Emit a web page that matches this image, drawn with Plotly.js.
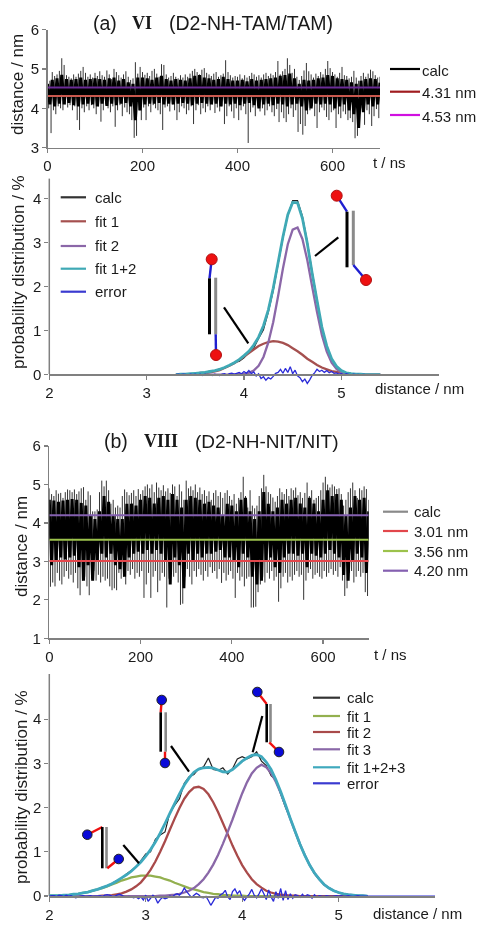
<!DOCTYPE html>
<html><head><meta charset="utf-8">
<script src="https://cdn.plot.ly/plotly-3.0.1.min.js"></script>
<style>html,body{margin:0;padding:0;background:#fff}#c{width:485px;height:927px;filter:blur(0.45px)}</style>
</head><body><div id="c"></div>
<script>
// ---------- panel (a) trajectory: upper / lower excursions every 5 ns ----------
const trajStep = 5;
const aHi = [4.78,4.70,4.92,4.82,4.86,4.95,5.27,5.10,4.84,4.80,4.76,4.86,4.80,4.88,4.95,5.05,4.90,4.80,4.86,4.78,
4.90,4.82,4.94,4.84,4.80,4.96,4.86,4.74,5.00,4.92,4.84,4.78,4.86,4.94,4.80,4.72,4.76,5.17,4.88,5.05,
4.92,4.85,4.90,4.82,4.95,5.00,4.88,4.80,5.12,5.10,4.86,4.78,4.82,4.90,4.80,4.76,4.84,4.78,4.86,4.80,
4.88,4.95,5.00,4.92,4.86,4.98,5.02,4.90,4.86,4.82,4.88,4.92,4.80,4.84,4.88,5.22,4.92,4.84,4.78,4.82,
4.80,4.86,4.76,4.84,4.78,4.82,4.90,4.86,4.80,4.84,4.78,4.86,4.90,4.82,4.88,4.84,4.92,5.20,4.86,4.94,
5.00,5.27,5.10,4.90,5.00,4.80,4.72,4.82,4.96,5.15,4.94,4.86,4.78,4.88,4.82,4.92,4.86,5.00,5.20,5.02,
4.92,4.86,4.80,4.90,5.05,4.84,4.82,4.76,4.80,4.95,4.78,4.70,4.82,4.90,4.80,4.88,4.98,4.94,4.84,4.78,4.80];
const aLo = [4.00,3.37,3.95,3.85,4.05,4.00,3.95,4.10,4.02,4.08,3.95,4.05,3.70,3.45,4.00,3.90,4.05,3.95,4.08,4.00,
3.85,4.05,3.66,3.95,4.10,4.00,3.90,4.05,3.53,3.95,4.08,3.80,4.02,3.90,3.85,3.70,3.25,3.30,3.95,3.70,
4.02,3.70,4.05,3.90,4.08,4.00,3.95,3.85,3.45,4.02,4.05,3.92,4.10,3.95,3.70,3.90,4.05,4.00,3.85,3.95,
4.05,3.60,3.95,4.08,3.85,4.00,3.90,4.05,3.95,4.10,3.88,4.02,3.92,4.05,3.60,3.80,4.05,3.92,3.75,4.00,
3.70,3.95,4.05,3.85,3.12,3.90,4.02,3.80,4.05,3.92,4.00,3.82,3.95,4.05,3.90,3.80,3.98,3.65,3.90,3.75,
3.65,3.85,4.00,3.78,3.95,3.40,3.60,3.33,3.55,3.85,3.95,4.05,3.80,3.50,3.90,4.02,3.95,3.78,3.70,3.90,
3.95,3.50,3.85,3.75,3.92,3.85,3.70,3.75,3.65,3.24,3.30,3.85,4.00,3.58,3.95,3.85,3.55,3.80,3.98,3.75,4.00];
// dense black core of the trajectory, every 10 ns
const coreStep = 10;
const aCoreHi = [4.62,4.72,4.76,4.85,4.74,4.72,4.74,4.78,4.72,4.74,
4.76,4.74,4.72,4.76,4.78,4.70,4.74,4.66,4.62,4.78,
4.78,4.76,4.72,4.78,4.82,4.74,4.70,4.74,4.72,4.70,
4.76,4.82,4.84,4.78,4.76,4.72,4.74,4.80,4.74,4.70,
4.70,4.72,4.68,4.74,4.70,4.72,4.74,4.76,4.78,4.82,
4.84,4.88,4.76,4.62,4.72,4.70,4.72,4.76,4.78,4.84,
4.82,4.76,4.74,4.72,4.66,4.62,4.70,4.74,4.76,4.74,4.65];
const aCoreLo = [4.10,4.05,4.12,4.10,4.14,4.08,4.05,4.10,4.12,4.10,
4.05,4.12,4.06,4.12,4.08,4.12,4.14,4.05,3.70,3.95,
4.10,4.12,4.12,4.14,4.10,4.12,4.10,4.12,4.14,4.12,
4.08,4.12,4.14,4.12,4.10,4.12,4.05,4.12,4.10,4.12,
4.08,4.12,4.14,4.08,4.00,4.10,4.12,4.08,4.12,4.10,
4.05,4.10,4.12,4.05,3.95,4.00,4.12,4.10,4.12,4.10,
4.00,4.05,4.10,3.95,3.85,3.50,3.90,4.10,4.05,4.10,4.10];
const aLevels = [4.31, 4.53];

// ---------- panel (b) trajectory ----------
const bHi = [4.90,4.75,4.70,4.85,4.76,4.78,4.65,4.80,4.87,4.85,4.80,4.87,4.75,4.82,4.90,4.93,4.60,4.82,4.72,4.30,
4.30,4.35,4.80,5.10,4.95,5.10,4.85,4.50,4.60,4.40,4.45,4.40,4.70,4.87,4.80,4.72,4.78,4.85,4.70,4.88,
4.75,4.85,4.95,5.00,4.90,5.00,4.80,5.05,4.92,4.85,4.98,4.82,4.90,4.78,5.00,4.95,4.70,5.00,4.82,4.60,
5.10,4.90,4.95,4.85,5.00,4.80,4.92,4.75,4.85,4.70,4.82,4.60,4.78,4.85,4.70,4.80,4.65,4.78,4.85,4.70,
4.60,4.75,4.50,4.65,4.80,5.20,4.70,4.40,4.85,4.45,4.38,4.45,4.70,4.90,5.25,4.95,4.80,4.75,4.66,4.55,
4.70,4.90,4.80,4.75,4.88,4.70,4.90,4.85,4.92,4.72,4.80,4.65,4.78,5.05,4.70,4.85,4.60,4.65,4.70,4.85,
5.05,5.20,5.00,4.92,5.00,4.95,4.88,4.90,4.75,4.45,4.60,4.80,4.90,5.05,4.85,4.65,4.90,4.85,4.95,4.88,4.60];
const bLo = [2.34,2.45,2.35,2.70,2.50,2.40,2.60,2.75,2.55,2.65,2.45,2.70,2.30,2.12,2.50,2.60,2.35,2.12,2.55,2.75,
2.50,2.65,2.45,2.60,2.50,2.55,2.35,2.25,2.30,2.25,2.70,2.55,2.60,2.40,2.75,2.65,2.80,2.55,2.70,2.60,
2.75,2.05,2.40,2.70,2.05,2.60,2.75,2.20,2.50,2.70,2.60,1.80,2.55,2.75,2.60,2.70,2.45,1.87,1.90,2.60,
2.80,2.60,2.40,2.75,2.60,2.80,2.65,2.50,2.75,2.60,2.85,2.70,2.75,2.55,2.80,2.44,2.70,2.50,2.65,2.75,
2.55,2.05,2.70,2.50,2.60,2.35,2.55,2.60,1.80,1.80,1.82,2.20,2.40,2.60,2.45,2.70,2.55,2.75,2.50,2.60,
1.95,2.30,2.60,2.70,2.45,2.60,2.50,2.65,2.75,2.60,2.65,2.00,2.50,2.70,2.80,2.55,2.65,2.70,2.60,2.55,
2.75,2.60,2.70,2.80,2.65,2.75,2.60,2.85,2.50,2.10,2.30,2.70,2.75,2.45,2.60,2.75,2.60,2.70,2.20,2.10,2.60];
const bCoreHi = [4.60,4.58,4.55,4.58,4.60,4.62,4.60,4.52,4.45,4.20,
4.10,4.30,4.70,4.55,4.20,4.10,4.10,4.50,4.50,4.45,
4.60,4.70,4.65,4.50,4.65,4.70,4.60,4.75,4.60,4.40,
4.60,4.70,4.65,4.60,4.50,4.55,4.45,4.40,4.20,4.50,
4.45,4.30,4.60,4.65,4.30,4.10,4.30,4.80,4.50,4.30,
4.40,4.60,4.50,4.60,4.65,4.50,4.40,4.65,4.50,4.30,
4.60,4.85,4.70,4.75,4.60,4.20,4.40,4.70,4.60,4.65,4.30];
const bCoreLo = [2.90,3.00,3.10,3.05,3.10,3.15,2.85,2.50,2.90,2.50,
3.00,3.20,3.10,3.20,2.90,2.80,2.60,3.10,3.20,3.25,
3.20,3.30,3.20,3.30,3.20,3.00,2.40,3.10,2.90,2.30,
3.20,3.00,3.20,3.10,3.20,3.20,3.25,3.30,3.10,3.10,
3.00,2.85,3.20,3.10,2.60,2.40,2.50,3.00,3.10,2.85,
2.70,3.10,3.20,3.20,3.15,3.20,2.85,3.20,3.15,3.10,
3.20,3.30,3.20,3.10,2.65,2.50,3.00,3.20,3.10,2.70,2.60];
const bLevels = [3.01, 3.56, 4.20];

// ---------- panel (a) distribution, 0.05 nm grid from 3.30 nm ----------
const aStart = 3.30;
const aCalc = [0,.01,.02,.02,.03,.05,.05,.08,.09,.13,.15,.20,.28,.30,.38,.50,.60,.82,1.02,1.42,1.90,2.50,3.10,3.62,3.95,3.95,3.60,3.02,2.34,1.70,1.06,.62,.34,.17,.07,.04,.02,.01,.01,0,0,0,0];
const aFit1 = [0,0,0,.01,.01,.02,.03,.05,.07,.10,.15,.20,.26,.33,.41,.49,.57,.65,.70,.74,.76,.75,.72,.67,.60,.53,.45,.36,.29,.22,.16,.12,.08,.06,.04,.02,.01,.01,.01,0,0,0,0];
const aFit2 = [0,0,0,0,0,0,0,0,0,0,0,0,0,.01,.01,.04,.09,.20,.40,.73,1.19,1.78,2.41,2.96,3.29,3.34,3.08,2.60,2.00,1.42,.90,.52,.27,.13,.05,.02,.01,0,0,0,0,0,0];
const aFit12 = [0,.01,.01,.02,.03,.04,.05,.07,.09,.12,.16,.21,.27,.34,.43,.53,.67,.85,1.11,1.47,1.96,2.54,3.13,3.63,3.91,3.90,3.55,2.98,2.30,1.68,1.08,.65,.36,.19,.09,.04,.02,.01,.01,0,0,0,0];
// error, 0.025 nm grid from 3.30 nm
const errStep = 0.025;
const aErr = [0,.01,0,.01,.005,-.01,.01,0,.01,
-.01,.01,-.02,.01,-.01,0,-.02,.01,-.01,-.02,
.01,.02,-.01,.02,.03,.01,.03,.05,.02,.07,
.03,.09,.02,.06,-.03,.02,-.09,-.05,-.13,-.07,
-.10,-.04,.03,.05,.12,.03,.14,.05,.18,.02,
.10,-.03,-.07,-.16,-.10,-.20,-.12,-.02,.04,.12,
.07,.10,.05,.09,.04,.07,.03,.04,.01,.02,
-.01,.02,.005,-.01,.01,0,.005,-.005,.005,0,0,0];

// ---------- panel (b) distribution, 0.05 nm grid from 2.00 nm ----------
const bStart = 2.00;
const bCalc = [.01,.01,.01,.02,.03,.03,.05,.07,.09,.11,.15,.20,.23,.29,.35,.40,.50,.58,.66,.80,
.95,1.00,1.28,1.38,1.45,1.88,2.05,2.20,2.55,2.70,2.75,2.88,2.92,3.12,2.86,2.84,2.90,2.76,2.88,3.10,
3.15,3.10,3.15,3.26,3.05,2.95,2.72,2.62,2.30,2.00,1.75,1.44,1.15,.94,.70,.50,.37,.27,.18,.13,.08,.05,.03,.02,.01,.01,0];
const bFit1 = [.01,.01,.01,.02,.02,.04,.05,.07,.09,.12,.15,.18,.22,.26,.30,.35,.38,.42,.44,.46,
.46,.46,.44,.42,.38,.35,.30,.26,.22,.18,.15,.12,.09,.07,.05,.04,.02,.02,.01,.01,
.01,0,0,0,0,0,0,0,0,0,0,0,0,0,0,0,0,0,0,0,0,0,0,0,0,0,0];
const bFit2 = [0,0,0,0,0,0,0,0,0,0,0,.01,.01,.02,.04,.06,.10,.15,.22,.31,
.44,.59,.78,1.00,1.24,1.50,1.75,1.99,2.20,2.35,2.45,2.47,2.42,2.30,2.12,1.90,1.65,1.40,1.14,.91,
.70,.53,.38,.27,.19,.12,.08,.05,.03,.02,.01,.01,0,0,0,0,0,0,0,0,0,0,0,0,0,0,0];
const bFit3 = [0,0,0,0,0,0,0,0,0,0,0,0,0,0,0,0,0,0,0,0,
0,0,0,.01,.01,.02,.03,.05,.08,.12,.18,.27,.38,.53,.71,.93,1.18,1.45,1.73,2.03,
2.32,2.57,2.77,2.90,2.97,2.91,2.78,2.58,2.33,2.04,1.74,1.45,1.17,.92,.70,.52,.38,.26,.18,.12,.08,.05,.03,.02,.01,.01,0];
const bFit123 = [.01,.01,.01,.02,.02,.04,.05,.07,.09,.12,.15,.19,.23,.28,.34,.41,.48,.56,.66,.77,
.90,1.05,1.22,1.42,1.64,1.87,2.09,2.31,2.51,2.67,2.80,2.87,2.90,2.91,2.89,2.85,2.81,2.80,2.86,2.95,
3.05,3.12,3.18,3.20,3.15,3.03,2.86,2.63,2.36,2.06,1.75,1.46,1.17,.92,.70,.52,.38,.26,.18,.12,.08,.05,.03,.02,.01,.01,0];
const bErr = [0,.01,.01,-.01,.02,.01,-.01,.02,0,.01,
-.02,-.04,-.02,0,.01,-.01,0,.01,-.01,0,
0,.01,-.01,.02,.03,.02,0,-.01,.02,.04,
.02,-.01,-.03,-.01,-.02,-.04,-.02,-.06,-.02,-.09,
.02,-.12,-.05,.02,-.04,-.16,-.08,-.03,-.06,-.04,
0,-.02,.03,.05,.02,.08,.18,.10,.03,-.03,
.02,.06,.03,-.03,-.04,-.01,-.10,-.21,-.12,-.03,
-.05,.03,.06,.13,-.02,-.08,.10,.16,.05,.12,
-.03,-.10,-.02,.05,.15,.02,-.04,.05,.16,.05,
-.08,.14,-.02,-.12,.10,-.05,.17,-.10,.12,-.08,
.05,-.05,.03,.01,-.03,.04,-.02,.03,.01,-.05,
.03,-.02,.01,0,-.01,.01,0,-.01,0,.01,
0,.01,-.01,0,.01,0,-.01,0,.01,0,0,0,0];

// ---------- labels ----------
const timeTicks = [0,200,400,600];
const distTicks = [2,3,4,5];
const aTopTicks = [3,4,5,6];
const bTopTicks = [1,2,3,4,5,6];
const aProbTicks = [0,1,2,3,4];
const bProbTicks = [0,1,2,3,4];
const aTopLegend = ["calc","4.31 nm","4.53 nm"];
const aBotLegend = ["calc","fit 1","fit 2","fit 1+2","error"];
const bTopLegend = ["calc","3.01 nm","3.56 nm","4.20 nm"];
const bBotLegend = ["calc","fit 1","fit 2","fit 3","fit 1+2+3","error"];

// ---------- helpers ----------
const W = 485, H = 927;
const fx = p => p / W, fy = p => 1 - p / H;
const grid = (s, d, n) => Array.from({length:n}, (_, i) => +(s + i * d).toFixed(3));
function zigzag(hi, lo, step) {           // alternate upper and lower values along the time grid
  const xs = [], ys = [];
  hi.forEach((v, i) => { xs.push(i * step, i * step + step / 2); ys.push(v, lo[i]); });
  return {x: xs.slice(0, -1), y: ys.slice(0, -1)};
}
function sticks(hi, lo, mid, step) {      // thin vertical excursions out of the core
  const xs = [], ys = [];
  hi.forEach((v, i) => {
    xs.push(i * step, i * step, null);                 ys.push(mid, v, null);
    if (i < hi.length - 1) { xs.push(i * step + step / 2, i * step + step / 2, null); ys.push(mid, lo[i], null); }
  });
  return {x: xs, y: ys};
}
const line = (x, y, color, width, xa, ya) => ({type:'scatter', mode:'lines', x, y, xaxis:xa, yaxis:ya,
  line:{color, width, shape:'linear', simplify:false}, connectgaps:false, showlegend:false, hoverinfo:'skip', cliponaxis:false});

// ---------- traces ----------
const traces = [];
const za = sticks(aHi, aLo, aLevels[0], trajStep), zb = sticks(bHi, bLo, bLevels[1], trajStep);
const ca = zigzag(aCoreHi, aCoreLo, coreStep), cb = zigzag(bCoreHi, bCoreLo, coreStep);
traces.push(line(za.x, za.y, '#333', 1, 'x', 'y'));
traces.push(line(ca.x, ca.y, '#000', 3, 'x', 'y'));
traces.push(line([0,700], [aLevels[0],aLevels[0]], '#c9584e', 2, 'x', 'y'));
traces.push(line([0,700], [aLevels[1],aLevels[1]], '#6b2c96', 2, 'x', 'y'));

const ax = grid(aStart, 0.05, aCalc.length);
traces.push(line(ax, aCalc, '#222', 1.2, 'x2', 'y2'));
traces.push(line(ax, aFit1, '#a5504f', 2.3, 'x2', 'y2'));
traces.push(line(ax, aFit2, '#8b67a8', 2.3, 'x2', 'y2'));
traces.push(line(ax, aFit12, '#3fa9b5', 2.8, 'x2', 'y2'));
traces.push(line(grid(aStart, errStep, aErr.length).concat([6]), aErr.concat([0]), '#2a2ad8', 1.3, 'x2', 'y2'));

traces.push(line(zb.x, zb.y, '#333', 1, 'x3', 'y3'));
traces.push(line(cb.x, cb.y, '#000', 3, 'x3', 'y3'));
traces.push(line([0,700], [bLevels[0],bLevels[0]], '#e2474c', 2, 'x3', 'y3'));
traces.push(line([0,700], [bLevels[1],bLevels[1]], '#9cc24c', 2, 'x3', 'y3'));
traces.push(line([0,700], [bLevels[2],bLevels[2]], '#8560b0', 2, 'x3', 'y3'));

const bx = grid(bStart, 0.05, bCalc.length);
traces.push(line(bx, bCalc, '#222', 1.2, 'x4', 'y4'));
traces.push(line(bx, bFit1, '#93b04f', 2.3, 'x4', 'y4'));
traces.push(line(bx, bFit2, '#a94a4a', 2.3, 'x4', 'y4'));
traces.push(line(bx, bFit3, '#8a68a8', 2.3, 'x4', 'y4'));
traces.push(line(bx, bFit123, '#3fa9bd', 2.8, 'x4', 'y4'));
traces.push(line(grid(bStart, errStep, bErr.length).concat([6]), bErr.concat([0]), '#2a2ad8', 1.3, 'x4', 'y4'));

// ---------- axes ----------
const FONT = 'Liberation Sans, Arial, sans-serif';
const tf = {family:FONT, size:15, color:'#1a1a1a'};
const axisBase = {showgrid:false, zeroline:false, showline:true, linecolor:'#808080', linewidth:1.5,
  ticks:'outside', ticklen:4, tickwidth:1.2, tickcolor:'#808080', tickfont:tf, tickmode:'array', fixedrange:true};
const xA = (l, r, range, vals, anchor, extra) => Object.assign({}, axisBase, {domain:[fx(l),fx(r)], range, tickvals:vals, ticktext:vals.map(String), anchor}, extra||{});
const yA = (t, b, range, vals, anchor, extra) => Object.assign({}, axisBase, {domain:[fy(b),fy(t)], range, tickvals:vals, ticktext:vals.map(String), anchor}, extra||{});

// ---------- decoration shapes (legend keys and molecule sketches) ----------
const shapes = [];
const seg = (x0,y0,x1,y1,color,width,layer) => shapes.push({type:'line', xref:'paper', yref:'paper', x0:fx(x0), y0:fy(y0), x1:fx(x1), y1:fy(y1), line:{color,width}, layer:layer||'above'});
const dot = (cx,cy,r,fill,edge) => shapes.push({type:'circle', xref:'paper', yref:'paper', x0:fx(cx-r), x1:fx(cx+r), y0:fy(cy+r), y1:fy(cy-r), fillcolor:fill, line:{color:edge,width:1}, layer:'above'});
function molecule(m, link, ball, edge, bw, r) {
  seg(m.d1[0],m.d1[1],m.b1[0],m.b1[1],link,2.4);
  seg(m.b1[0],m.b1[1],m.b1[0],m.b1[2],'#000',bw);
  seg(m.g[0],m.g[1],m.g[0],m.g[2],'#8a8a8a',bw);
  seg(m.l2[0],m.l2[1],m.d2[0],m.d2[1],link,2.4);
  dot(m.d1[0],m.d1[1],r,ball,edge); dot(m.d2[0],m.d2[1],r,ball,edge);
  seg(m.p[0],m.p[1],m.p[2],m.p[3],'#000',2.2);
}
molecule({d1:[336.7,195.7],b1:[347,211.7,267.3],g:[353.3,210.7,265],l2:[353.3,265],d2:[366,280],p:[315,256,338.3,237.3]},'#1f1fd0','#ee1111','#b01010',3,5.5);
molecule({d1:[211.7,259.3],b1:[209.5,278.3,334.3],g:[215.7,277.7,334.3],l2:[215.7,334.3],d2:[216,355],p:[224,307.3,248.3,343.3]},'#1f1fd0','#ee1111','#b01010',3,5.5);
molecule({d1:[87.3,834.7],b1:[102.3,827,868.3],g:[106.5,827,868.3],l2:[107.3,868.3],d2:[118.7,859],p:[123.3,845,139,863.3]},'#ee1111','#0a0ad8','#222',2.6,4.8);
molecule({d1:[161.7,700],b1:[160.7,712.3,751.7],g:[165.7,712.3,751.7],l2:[165,751.7],d2:[165,763],p:[171,746,189,771.7]},'#ee1111','#0a0ad8','#222',2.6,4.8);
molecule({d1:[257.3,692],b1:[266.7,704,742.3],g:[270.5,704,742.3],l2:[269.3,742.3],d2:[279,752],p:[262.3,716,252.7,752.3]},'#ee1111','#0a0ad8','#222',2.6,4.8);
// y-axis lines of the two distribution panels stop at 0; their domains extend lower for the negative error trace
seg(49.3,178.6,49.3,374,'#808080',1.5,'below');
seg(49.3,674,49.3,896,'#808080',1.5,'below');

// ---------- texts ----------
const annotations = [];
const txt = (text,x,y,opt={}) => annotations.push(Object.assign({text, xref:'paper', yref:'paper', x:fx(x), y:fy(y),
  xanchor:'left', yanchor:'middle', showarrow:false, borderpad:0, font:{family:FONT,size:15,color:'#1a1a1a'}}, opt));
function legend(labels, colors, ys, x0, x1, tx, lw, dyText=0) {
  labels.forEach((l,i) => { seg(x0,ys[i],x1,ys[i],colors[i],lw); txt(l,tx,ys[i]+dyText); });
}
legend(aTopLegend, ['#000','#a01c20','#d010e0'], [69,91.7,115], 390, 420, 421, 2.2, 1);
legend(aBotLegend, ['#333','#a5504f','#8b67a8','#3fa9b5','#3a3ad0'], [197.3,221.3,246,268.7,291.7], 60.7, 86, 94.3, 2.2, 0);
legend(bTopLegend, ['#8a8a8a','#e2474c','#9cc24c','#8560b0'], [511.7,531,551,570.7], 383, 408, 413.3, 2.2, 0);
legend(bBotLegend, ['#333','#93b04f','#a94a4a','#8a68a8','#3fa9bd','#3a3ad0'], [697.7,716,732,749.3,767.3,783.3], 313, 340, 346, 2.2, 0);

const T = {family:FONT,size:19.5,color:'#1a1a1a'}, S = {family:'Liberation Serif, serif',size:18,color:'#1a1a1a'};
txt('(a)',92,23,{font:T}); txt('<b>VI</b>',131,23,{font:S}); txt('(D2-NH-TAM/TAM)',168,23,{font:T});
txt('(b)',102.7,441,{font:T}); txt('<b>VIII</b>',142.7,441,{font:S}); txt('(D2-NH-NIT/NIT)',194.3,441,{font:{family:FONT,size:19,color:'#1a1a1a'}});
txt('t / ns',372,162); txt('distance / nm',374,388); txt('t / ns',373,654); txt('distance / nm',372,913);
const rot = {textangle:-90, xanchor:'center', yanchor:'middle', font:{family:FONT,size:17,color:'#1a1a1a'}};
txt('distance / nm',17,85,rot); txt('probability distribution / %',19,272,rot);
txt('distance / nm',21,547,rot); txt('probability distribution / %',21,787,rot);

const layout = {
  width:W, height:H, margin:{l:0,r:0,t:0,b:0}, paper_bgcolor:'#fff', plot_bgcolor:'rgba(0,0,0,0)', showlegend:false,
  font:{family:FONT},
  xaxis:xA(47.5,380,[0,700],timeTicks,'y'), yaxis:yA(29.5,147.7,[3,6],aTopTicks,'x'),
  xaxis2:xA(49.3,438.7,[2,6],distTicks,'free',{position:fy(374)}),
  yaxis2:yA(178.6,387.8,[-0.3,4.45],aProbTicks,'x2',{showline:false}),
  xaxis3:xA(49.3,368.7,[0,700],timeTicks,'y3'), yaxis3:yA(446,638.3,[1,6],bTopTicks,'x3'),
  xaxis4:xA(49.3,435,[2,6],distTicks,'free',{position:fy(896)}),
  yaxis4:yA(674,909.3,[-0.3,5.02],bProbTicks,'x4',{showline:false}),
  shapes, annotations
};
Plotly.newPlot('c', traces, layout, {displayModeBar:false, staticPlot:true});
</script></body></html>
